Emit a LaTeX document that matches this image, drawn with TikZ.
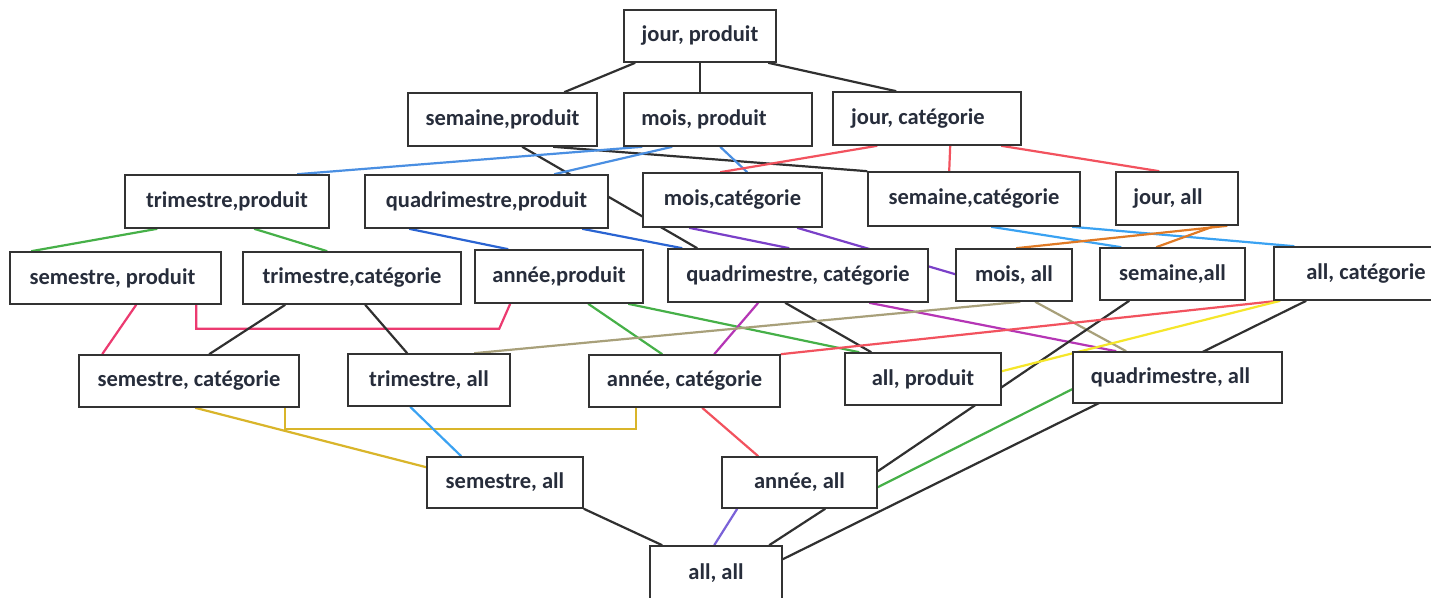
\documentclass[tikz,border=0pt]{standalone}
\usepackage{fontspec}
\setmainfont{Carlito}
\definecolor{ink}{HTML}{272D3B}
\definecolor{frame}{HTML}{333333}
\definecolor{kline}{HTML}{303030}
\definecolor{blueA}{HTML}{4A8FE2}
\definecolor{blueB}{HTML}{2A64D2}
\definecolor{lblue}{HTML}{3AA2F2}
\definecolor{redA}{HTML}{F2525E}
\definecolor{greenA}{HTML}{46B048}
\definecolor{purpleA}{HTML}{7A40C8}
\definecolor{magentaA}{HTML}{B535B5}
\definecolor{orangeA}{HTML}{E07A25}
\definecolor{pinkA}{HTML}{EC3A70}
\definecolor{oliveA}{HTML}{A8A07A}
\definecolor{yellowA}{HTML}{F5E62A}
\definecolor{goldA}{HTML}{D9B52A}
\definecolor{violetA}{HTML}{7A62D8}
\pgfdeclarelayer{paper}
\pgfdeclarelayer{links}
\pgfsetlayers{paper,links,main}
\begin{document}
\begin{tikzpicture}[x=1pt,y=-1pt,
  cellbox/.style={draw=frame, line width=1.6pt, fill=white, inner sep=0pt,
    font=\fontsize{22.5}{26}\selectfont\bfseries, text=ink},
  tx/.style={execute at begin node={\hspace*{#1}}},
  link/.style={line width=2.2pt}]
\useasboundingbox (0,0) rectangle (1431,597);
\begin{pgfonlayer}{paper}
  \fill[white] (0,0) rectangle (1431,597);
\end{pgfonlayer}

% the lattice of aggregation levels
\begin{scope}
\clip (0,0) rectangle (1431,597);
\node[cellbox, minimum width=152pt, minimum height=52pt] (jp) at (700,36) {jour, produit};

\node[cellbox, minimum width=189pt, minimum height=53pt] (sp) at (502.5,119.5) {semaine,produit};
\node[cellbox, minimum width=188pt, minimum height=53pt, tx=-28pt] (mp) at (718,119.5) {mois, produit};
\node[cellbox, minimum width=188pt, minimum height=53pt, tx=-18pt] (jc) at (927,118.5) {jour, catégorie};

\node[cellbox, minimum width=204pt, minimum height=53pt] (tp) at (227,201.5) {trimestre,produit};
\node[cellbox, minimum width=243pt, minimum height=53pt] (qp) at (486.5,201.5) {quadrimestre,produit};
\node[cellbox, minimum width=179pt, minimum height=54pt] (mc) at (732.5,200) {mois,catégorie};
\node[cellbox, minimum width=212pt, minimum height=54pt] (sc) at (974,199) {semaine,catégorie};
\node[cellbox, minimum width=122pt, minimum height=53pt, tx=-18pt] (ja) at (1177,198.5) {jour, all};

\node[cellbox, minimum width=211pt, minimum height=52pt, tx=-6pt] (spr) at (115.5,278) {semestre, produit};
\node[cellbox, minimum width=218pt, minimum height=52pt] (tc) at (352,278) {trimestre,catégorie};
\node[cellbox, minimum width=168pt, minimum height=53pt] (ap) at (559,276.5) {année,produit};
\node[cellbox, minimum width=260pt, minimum height=53pt] (qc) at (798,275.5) {quadrimestre, catégorie};
\node[cellbox, minimum width=116pt, minimum height=52pt] (ma) at (1014,275) {mois, all};
\node[cellbox, minimum width=145pt, minimum height=52pt] (sa) at (1172.5,274) {semaine,all};
\node[cellbox, minimum width=184pt, minimum height=53pt] (ac) at (1366,273.5) {all, catégorie};

\node[cellbox, minimum width=220pt, minimum height=52pt] (sct) at (189,381) {semestre, catégorie};
\node[cellbox, minimum width=162pt, minimum height=52pt] (ta) at (429,380) {trimestre, all};
\node[cellbox, minimum width=191pt, minimum height=52pt] (anc) at (684.5,381) {année, catégorie};
\node[cellbox, minimum width=156pt, minimum height=52pt] (apr) at (923,379) {all, produit};
\node[cellbox, minimum width=209pt, minimum height=51pt, tx=-14pt] (qa) at (1177.5,377.5) {quadrimestre, all};

\node[cellbox, minimum width=156pt, minimum height=51pt] (sea) at (505,482.5) {semestre, all};
\node[cellbox, minimum width=155pt, minimum height=51pt] (aa) at (799.5,482.5) {année, all};

\node[cellbox, minimum width=132pt, minimum height=54pt] (al) at (716,573) {all, all};
\end{scope}

% roll-up links, drawn beneath the boxes
\begin{pgfonlayer}{links}
\draw[link, kline] ([xshift=12pt]jp.south west) -- ([xshift=157pt]sp.north west);
\draw[link, kline] ([xshift=77pt]jp.south west) -- ([xshift=77pt]mp.north west);
\draw[link, kline] ([xshift=145pt]jp.south west) -- ([xshift=64pt]jc.north west);

\draw[link, kline] ([xshift=115pt]sp.south west) -- ([xshift=30pt]qc.north west);
\draw[link, kline] ([xshift=146pt]sp.south west) -- (sc.north west);
\draw[link, blueA] ([xshift=19pt]mp.south west) -- ([xshift=173pt]tp.north west);
\draw[link, blueA] ([xshift=49pt]mp.south west) -- ([xshift=190pt]qp.north west);
\draw[link, blueA] ([xshift=97pt]mp.south west) -- ([xshift=105pt]mc.north west);
\draw[link, redA] ([xshift=45pt]jc.south west) -- ([xshift=78pt]mc.north west);
\draw[link, redA] ([xshift=118pt]jc.south west) -- ([xshift=82pt]sc.north west);
\draw[link, redA] ([xshift=169pt]jc.south west) -- ([xshift=44pt]ja.north west);

\draw[link, greenA] ([xshift=33pt]tp.south west) -- ([xshift=22pt]spr.north west);
\draw[link, greenA] ([xshift=130pt]tp.south west) -- ([xshift=85pt]tc.north west);
\draw[link, blueB] ([xshift=45pt]qp.south west) -- ([xshift=34pt]ap.north west);
\draw[link, blueB] ([xshift=218pt]qp.south west) -- ([xshift=15pt]qc.north west);
\draw[link, purpleA] ([xshift=47pt]mc.south west) -- ([xshift=122pt]qc.north west);
\draw[link, purpleA] ([xshift=155pt]mc.south west) -- ([yshift=-26pt]ma.north west);
\draw[link, lblue] ([xshift=124pt]sc.south west) -- ([xshift=22pt]sa.north west);
\draw[link, lblue] ([xshift=205pt]sc.south west) -- ([xshift=21pt]ac.north west);
\draw[link, orangeA] ([xshift=112pt]ja.south west) -- ([xshift=61pt]ma.north west);
\draw[link, orangeA] ([xshift=100pt]ja.south west) -- ([xshift=57pt]sa.north west);

\draw[link, pinkA] ([xshift=127pt]spr.south west) -- ([xshift=24pt]sct.north west);
\draw[link, pinkA] ([xshift=187pt]spr.south west) -- ++(0,24) -- ++(303,0)
  -- ([xshift=36pt]ap.south west);
\draw[link, kline] ([xshift=43pt]tc.south west) -- ([xshift=131pt]sct.north west);
\draw[link, kline] ([xshift=123pt]tc.south west) -- ([xshift=60pt]ta.north west);
\draw[link, greenA] ([xshift=114pt]ap.south west) -- ([xshift=74pt]anc.north west);
\draw[link, greenA] ([xshift=154pt]ap.south west) -- ([xshift=15pt]apr.north west);
\draw[link, magentaA] ([xshift=91pt]qc.south west) -- ([xshift=126pt]anc.north west);
\draw[link, kline] ([xshift=118pt]qc.south west) -- ([xshift=27pt]apr.north west);
\draw[link, magentaA] ([xshift=202pt]qc.south west) -- ([xshift=44pt]qa.north west);
\draw[link, oliveA] ([xshift=65pt]ma.south west) -- ([xshift=127pt]ta.north west);
\draw[link, oliveA] ([xshift=80pt]ma.south west) -- ([xshift=54pt]qa.north west);
\draw[link, kline] ([xshift=30pt]sa.south west) -- ([yshift=-15pt]aa.north east);
\draw[link, redA] ([xshift=5pt]ac.south west) -- (anc.north east);
\draw[link, yellowA] ([xshift=7pt]ac.south west) -- ([yshift=-19pt]apr.north east);
\draw[link, kline] ([xshift=33pt]ac.south west) -- ([yshift=-14pt]al.north east);

\draw[link, goldA] ([xshift=117pt]sct.south west) -- ([yshift=-11pt]sea.north west);
\draw[link, goldA] ([xshift=207pt]sct.south west) -- ++(0,21) -- ++(351,0)
  -- ([xshift=48pt]anc.south west);
\draw[link, lblue] ([xshift=63pt]ta.south west) -- ([xshift=35pt]sea.north west);
\draw[link, redA] ([xshift=114pt]anc.south west) -- ([xshift=37pt]aa.north west);
\draw[link, greenA] ([yshift=-38pt]qa.north west) -- ([yshift=-31pt]aa.north east);

\draw[link, kline] (sea.south east) -- ([xshift=13pt]al.north west);
\draw[link, violetA] ([xshift=16pt]aa.south west) -- ([xshift=65pt]al.north west);
\draw[link, kline] ([xshift=104pt]aa.south west) -- ([xshift=120pt]al.north west);
\end{pgfonlayer}
\end{tikzpicture}
\end{document}
